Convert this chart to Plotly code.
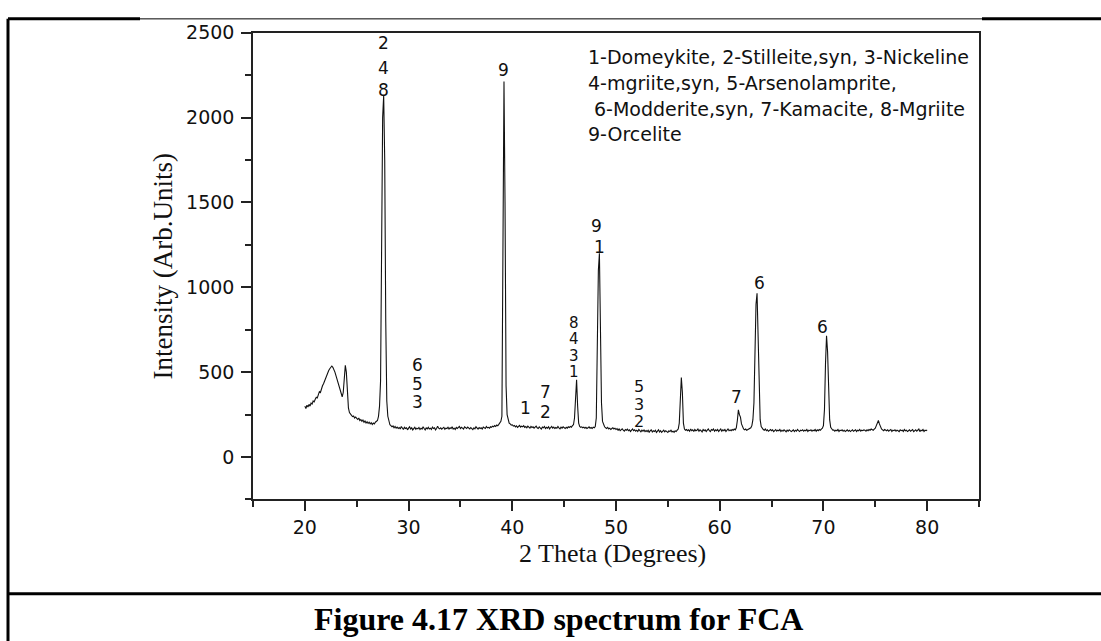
import numpy as np
import plotly.graph_objects as go

# XRD scan of FCA: 2-theta from 20.0 to 80.0 degrees in 0.1 degree steps
TWO_THETA_START = 20.0
TWO_THETA_STEP = 0.1
INTENSITY = [
    300, 285, 305, 295, 310, 300, 318, 312, 330, 325,   # 20
    340, 352, 348, 370, 385, 380, 405, 420, 432, 450,   # 21
    465, 478, 495, 510, 520, 532, 536, 528, 518, 500,   # 22
    480, 458, 430, 410, 385, 365, 355, 380, 470, 540,   # 23
    500, 380, 290, 262, 250, 245, 238, 242, 230, 236,   # 24
    228, 222, 230, 215, 220, 210, 218, 205, 212, 200,   # 25
    208, 198, 205, 195, 202, 192, 200, 195, 205, 210,   # 26
    215, 240, 300, 450, 1250, 2000, 2130, 1750, 800, 330,  # 27
    240, 205, 190, 185, 178, 183, 172, 180, 170, 176,   # 28
    168, 174, 165, 180, 170, 162, 175, 168, 172, 160,   # 29
    170, 178, 165, 172, 160, 168, 175, 163, 170, 166,   # 30
    174, 162, 170, 165, 178, 168, 160, 172, 166, 175,   # 31
    165, 170, 162, 176, 168, 172, 160, 168, 182, 170,   # 32
    166, 172, 164, 170, 175, 163, 170, 168, 176, 165,   # 33
    172, 168, 178, 165, 170, 162, 174, 168, 172, 180,   # 34
    168, 175, 170, 165, 178, 172, 168, 176, 170, 165,   # 35
    174, 168, 162, 172, 166, 178, 170, 165, 174, 168,   # 36
    172, 165, 176, 170, 168, 180, 172, 175, 170, 178,   # 37
    175, 182, 178, 185, 180, 188, 184, 192, 198, 210,   # 38
    240, 1100, 2212, 1500, 420, 250, 215, 200, 195, 188,  # 39
    190, 182, 186, 178, 184, 175, 180, 186, 176, 182,   # 40
    178, 185, 175, 180, 172, 182, 176, 170, 180, 174,   # 41
    178, 170, 176, 182, 172, 168, 178, 174, 165, 176,   # 42
    172, 180, 168, 175, 170, 178, 166, 174, 180, 170,   # 43
    176, 168, 174, 170, 180, 172, 166, 176, 170, 178,   # 44
    172, 168, 175, 170, 178, 174, 180, 176, 185, 190,   # 45
    230, 380, 455, 300, 200, 180, 175, 178, 172, 176,   # 46
    170, 175, 168, 172, 178, 170, 174, 168, 176, 172,   # 47
    180, 230, 600, 1100, 1200, 800, 320, 210, 185, 178,  # 48
    172, 168, 175, 165, 170, 162, 168, 172, 165, 170,   # 49
    162, 168, 158, 165, 155, 160, 166, 158, 152, 162,   # 50
    158, 164, 155, 160, 150, 158, 165, 155, 160, 152,   # 51
    158, 150, 162, 155, 148, 158, 152, 160, 150, 156,   # 52
    150, 158, 145, 155, 160, 148, 155, 150, 158, 145,   # 53
    152, 160, 148, 155, 145, 152, 158, 148, 155, 150,   # 54
    145, 155, 150, 158, 148, 152, 145, 155, 150, 158,   # 55
    165, 200, 350, 468, 380, 200, 165, 158, 162, 155,   # 56
    160, 152, 165, 155, 160, 150, 162, 155, 158, 165,   # 57
    152, 160, 155, 148, 162, 155, 160, 150, 158, 165,   # 58
    155, 150, 162, 158, 165, 152, 160, 155, 162, 150,   # 59
    158, 165, 152, 160, 155, 162, 150, 158, 165, 155,   # 60
    160, 155, 162, 158, 165, 160, 172, 215, 278, 250,   # 61
    235, 195, 172, 165, 160, 165, 158, 162, 168, 172,   # 62
    172, 185, 220, 320, 600, 900, 965, 700, 380, 220,   # 63
    180, 168, 162, 158, 165, 155, 160, 152, 158, 162,   # 64
    155, 160, 150, 158, 162, 152, 158, 155, 162, 150,   # 65
    158, 152, 160, 155, 148, 158, 152, 160, 155, 150,   # 66
    155, 160, 150, 158, 152, 162, 155, 150, 158, 155,   # 67
    160, 152, 158, 155, 162, 150, 158, 155, 160, 152,   # 68
    158, 155, 162, 152, 160, 155, 162, 158, 165, 170,   # 69
    185, 280, 550, 714, 620, 380, 220, 175, 162, 158,   # 70
    160, 152, 158, 155, 162, 150, 158, 155, 160, 152,   # 71
    158, 150, 155, 160, 152, 158, 150, 156, 160, 152,   # 72
    155, 160, 150, 158, 155, 162, 152, 158, 155, 160,   # 73
    158, 152, 160, 155, 162, 158, 165, 160, 158, 165,   # 74
    170, 185, 205, 215, 195, 175, 165, 160, 155, 162,   # 75
    158, 155, 160, 152, 158, 162, 150, 158, 155, 160,   # 76
    152, 158, 155, 150, 160, 155, 158, 150, 162, 155,   # 77
    158, 150, 155, 160, 152, 158, 162, 150, 155, 160,   # 78
    152, 158, 165, 150, 158, 155, 162, 150, 158, 155,   # 79
    160,                                                # 80
]

# phase numbers written over the reflections
PEAK_LABEL_X = [27.6, 27.6, 27.6, 39.2, 30.9, 30.9, 30.9, 41.3, 43.25, 43.25,
                45.95, 45.95, 45.95, 45.95, 48.1, 48.4, 52.25, 52.25, 52.25,
                61.58, 63.8, 69.94]
PEAK_LABEL_Y = [2436, 2292, 2164, 2280, 544, 432, 322, 289, 386, 264,
                790, 694, 598, 502, 1360, 1238, 413, 312, 207,
                355, 1026, 766]
PEAK_LABEL_TEXT = ["2", "4", "8", "9", "6", "5", "3", "1", "7", "2",
                   "8", "4", "3", "1", "9", "1", "5", "3", "2",
                   "7", "6", "6"]
PEAK_LABEL_SIZE = [17, 17, 17, 17, 17, 17, 17, 17, 17, 17,
                   15, 15, 15, 15, 17, 17, 16, 16, 16,
                   17, 17, 17]

PHASE_KEY = [
    "1-Domeykite, 2-Stilleite,syn, 3-Nickeline",
    "4-mgriite,syn, 5-Arsenolamprite,",
    "6-Modderite,syn, 7-Kamacite, 8-Mgriite",
    "9-Orcelite",
]

X_TITLE = "2 Theta (Degrees)"
Y_TITLE = "Intensity (Arb.Units)"
CAPTION = "Figure 4.17 XRD spectrum for FCA"

W, H = 1101, 641


def px(x):
    return x / W


def py(y):
    return 1 - y / H


two_theta = np.round(TWO_THETA_START + TWO_THETA_STEP * np.arange(len(INTENSITY)), 1)

fig = go.Figure()
fig.add_trace(go.Scatter(
    x=two_theta, y=INTENSITY, mode="lines",
    line=dict(color="#111111", width=1.1),
    hoverinfo="skip", showlegend=False,
))

sans = "DejaVu Sans"
serif = "Liberation Serif, Times New Roman, serif"
axis_color = "#222222"

common_axis = dict(
    ticks="outside", ticklen=10, tickwidth=1.5, tickcolor=axis_color,
    showline=True, linecolor=axis_color, linewidth=1.5, mirror=True,
    showgrid=False, zeroline=False,
    tickfont=dict(family=sans, size=19, color="#111111"),
)

fig.update_layout(
    width=W, height=H, autosize=False,
    margin=dict(l=0, r=0, t=0, b=0),
    paper_bgcolor="white", plot_bgcolor="white",
    xaxis=dict(
        domain=[px(253), px(979)], range=[15, 85], tick0=0, dtick=10,
        minor=dict(tick0=0, dtick=5, ticks="outside", ticklen=6,
                   tickwidth=1.5, tickcolor=axis_color, showgrid=False),
        ticklabelstandoff=0,
        **common_axis,
    ),
    yaxis=dict(
        domain=[py(497), py(22)], range=[-250, 2500], tick0=0, dtick=500,
        minor=dict(tick0=0, dtick=250, ticks="outside", ticklen=6,
                   tickwidth=1.5, tickcolor=axis_color, showgrid=False),
        ticklabelstandoff=3,
        **common_axis,
    ),
)

annotations = []
for tx, ty, tt, ts in zip(PEAK_LABEL_X, PEAK_LABEL_Y, PEAK_LABEL_TEXT, PEAK_LABEL_SIZE):
    annotations.append(dict(
        x=tx, y=ty, xref="x", yref="y", text=tt, showarrow=False,
        xanchor="center", yanchor="middle", borderpad=0,
        font=dict(family=sans, size=ts, color="#111111"),
    ))

key_x = [586, 586, 592, 586]
key_y = [47, 73, 100, 125]
for kx, ky, line in zip(key_x, key_y, PHASE_KEY):
    annotations.append(dict(
        x=px(kx), y=py(ky), xref="paper", yref="paper", text=line,
        showarrow=False, xanchor="left", yanchor="middle",
        font=dict(family=sans, size=19, color="#111111"),
    ))

annotations.append(dict(
    x=px(612), y=py(552), xref="paper", yref="paper", text=X_TITLE,
    showarrow=False, xanchor="center", yanchor="middle",
    font=dict(family=serif, size=26, color="#111111"),
))
annotations.append(dict(
    x=px(163), y=py(260), xref="paper", yref="paper", text=Y_TITLE,
    showarrow=False, xanchor="center", yanchor="middle", textangle=-90,
    font=dict(family=serif, size=27, color="#111111"),
))
annotations.append(dict(
    x=px(558), y=py(619), xref="paper", yref="paper",
    text="<b>" + CAPTION + "</b>",
    showarrow=False, xanchor="center", yanchor="middle",
    font=dict(family=serif, size=32, color="#000000"),
))
fig.update_layout(annotations=annotations)

# table frame around the figure and its caption
frame = [
    (8, 8, 8, 641, 3),        # left border
    (8, 8, 140, 8, 3),        # top border, left part
    (140, 8, 982, 8, 1),      # top border behind the chart
    (982, 8, 1101, 8, 3),     # top border, right part
    (8, 593, 1101, 593, 3),   # rule above the caption
]
for x0, y0, x1, y1, w in frame:
    fig.add_shape(type="line", xref="paper", yref="paper",
                  x0=px(x0), y0=py(y0), x1=px(x1), y1=py(y1),
                  line=dict(color="black", width=w))

fig.write_html("out.html")
